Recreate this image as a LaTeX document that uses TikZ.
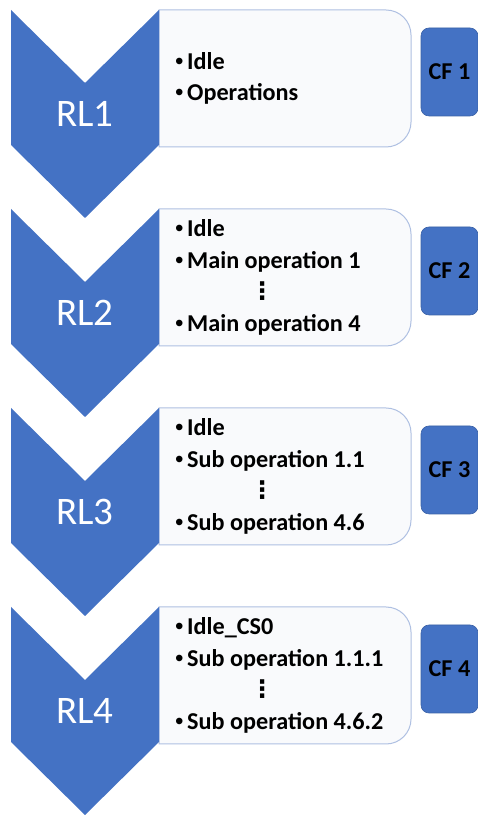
\documentclass[tikz,border=0pt]{standalone}
\usepackage{fontspec}
\setmainfont{Carlito}
\newfontfamily\symfont{DejaVu Sans}
\newfontfamily\bulletfont{Liberation Sans}
\definecolor{accent}{HTML}{4472C4}
\definecolor{panelline}{HTML}{AFC0E2}
\definecolor{panelfill}{HTML}{F9FAFC}

% one bullet line and the vertical ellipsis line of a list
\newcommand\bul[1]{\makebox[13pt][l]{\hspace*{1pt}{\bulletfont\mdseries •}}#1}
\newcommand\vellip{\hspace*{76pt}{\symfont\bfseries ⋮}}

\tikzset{
  chevron/.style={fill=accent, draw=none},
  panel/.style={fill=panelfill, draw=panelline, line width=1pt},
  levellabel/.style={text=white, font=\fontsize{39}{39}\selectfont, inner sep=0pt},
  listtext/.style={align=left, anchor=west, inner sep=0pt,
    font=\fontsize{24.2}{31.5}\selectfont\bfseries},
  cfbox/.style={fill=accent, draw=accent!85!black, line width=0.6pt,
    rounded corners=8pt, minimum width=57pt, minimum height=88pt,
    inner sep=0pt, font=\fontsize{24.2}{24}\selectfont\bfseries}
}

% #1 index, #2 top edge (y), #3 list contents
\newcommand\levelrow[3]{%
  % rounded panel holding the list
  \draw[panel] (159,#2) -- (386,#2) arc[start angle=90, end angle=0, radius=25]
     -- (411,#2-112) arc[start angle=0, end angle=-90, radius=25]
     -- (159,#2-137) -- cycle;
  % chevron
  \fill[chevron] (11,#2) -- (85,#2-73) -- (159,#2) -- (159,#2-135)
     -- (85,#2-208) -- (11,#2-135) -- cycle;
  \node[levellabel] (rl#1) at (85,#2-104) {RL#1};
  \node[listtext] (list#1) at (174,#2-68.5) {#3};
  \node[cfbox] (cf#1) at (449.5,#2-62) {CF #1};
}

\begin{document}
\begin{tikzpicture}[x=1pt,y=1pt]
\useasboundingbox (0,0) rectangle (478,816);
\fill[white] (0,0) rectangle (478,816);

\levelrow{1}{806}{\bul{Idle}\\\bul{Operations}}
\levelrow{2}{607}{\bul{Idle}\\\bul{Main operation 1}\\\vellip\\\bul{Main operation 4}}
\levelrow{3}{408}{\bul{Idle}\\\bul{Sub operation 1.1}\\\vellip\\\bul{Sub operation 4.6}}
\levelrow{4}{209}{\bul{Idle\_CS0}\\\bul{Sub operation 1.1.1}\\\vellip\\\bul{Sub operation 4.6.2}}
\end{tikzpicture}
\end{document}
